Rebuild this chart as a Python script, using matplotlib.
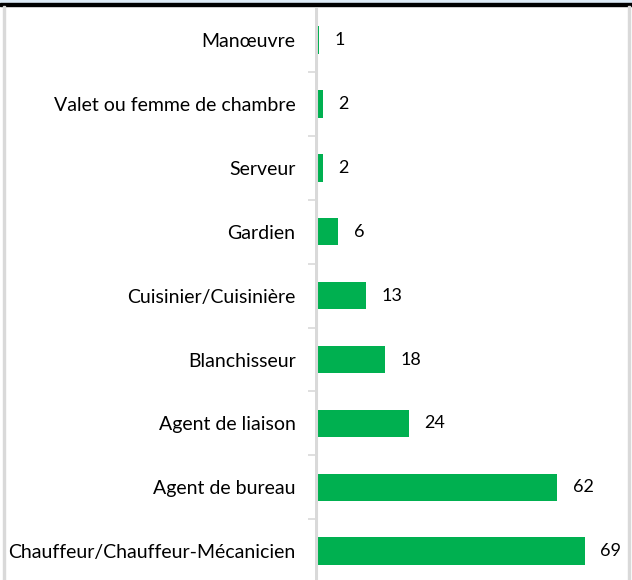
import matplotlib.pyplot as plt
from matplotlib.patches import Rectangle

categories = ['Chauffeur/Chauffeur-Mécanicien', 'Agent de bureau', 'Agent de liaison',
              'Blanchisseur', 'Cuisinier/Cuisinière', 'Gardien', 'Serveur',
              'Valet ou femme de chambre', 'Manœuvre']
values = [69, 62, 24, 18, 13, 6, 2, 2, 1]

plt.rcParams['font.family'] = ['Lato', 'DejaVu Sans']

W, H = 632, 580
fig = plt.figure(figsize=(W / 100, H / 100), dpi=100)

# frame pieces around the (cropped) chart
fig.patches.append(Rectangle((0, 1 - 3 / H), 1, 3 / H, transform=fig.transFigure,
                             color='#DDEBF7', zorder=0))
fig.patches.append(Rectangle((0, 1 - 6 / H), 1, 3 / H, transform=fig.transFigure,
                             color='#000000', zorder=5))
fig.patches.append(Rectangle((3 / W, 0), 2 / W, 1 - 6 / H, transform=fig.transFigure,
                             color='#D9D9D9', zorder=5))
fig.patches.append(Rectangle((628 / W, 0), 2 / W, 1 - 6 / H, transform=fig.transFigure,
                             color='#D9D9D9', zorder=5))

ax_left, ax_right = 315 / W, 627.5 / W
ax_top = 1 - 8 / H
ax = fig.add_axes([ax_left, 0, ax_right - ax_left, ax_top])

y = list(range(len(categories)))
bars = ax.barh(y, values, height=0.43, color='#00B050')
ax.bar_label(bars, labels=[str(v) for v in values], padding=11, fontsize=13, color='black')

xmax = (627.5 - 315) / 3.91
ax.set_xlim(0, xmax)
ax.set_ylim(-0.45, 8.5)
ax.set_yticks(y)
ax.set_yticklabels(categories, fontsize=14)
ax.tick_params(axis='y', which='major', length=0, pad=14)
ax.set_yticks([i + 0.5 for i in range(len(categories) - 1)], minor=True)
ax.tick_params(axis='y', which='minor', length=5, color='#D9D9D9', width=1.2)
ax.set_xticks([])

for s in ['top', 'right', 'bottom', 'left']:
    ax.spines[s].set_visible(False)
ax.axvline(0.6 / 3.91, color='#D9D9D9', linewidth=2.2, zorder=4)

plt.savefig('out.png', dpi=100)
